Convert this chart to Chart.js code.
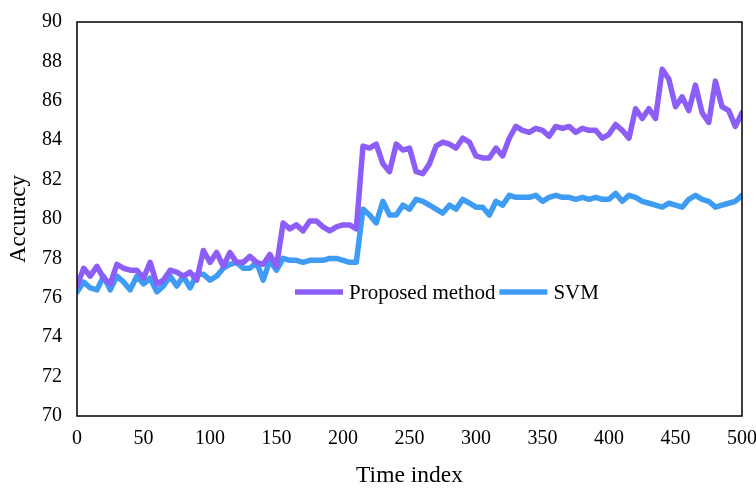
<!DOCTYPE html>
<html>
<head>
<meta charset="utf-8">
<script src="https://cdn.jsdelivr.net/npm/chart.js@4/dist/chart.umd.min.js"></script>
<style>
  html, body { margin: 0; padding: 0; background: #fff; }
  #wrap { width: 756px; height: 488px; }
</style>
</head>
<body>
<div id="wrap"><canvas id="lineChart"></canvas></div>
<script>
// time index, every 5 steps
const timeIndex = [];
for (let t = 0; t <= 500; t += 5) timeIndex.push(t);

const proposed = [
    76.6, 77.5, 77.1, 77.6, 77.0, 76.7, 77.7, 77.5, 77.4, 77.4,
    77.0, 77.8, 76.7, 76.9, 77.4, 77.3, 77.1, 77.3, 76.9, 78.4,
    77.8, 78.3, 77.6, 78.3, 77.8, 77.8, 78.1, 77.8, 77.7, 78.2,
    77.6, 79.8, 79.5, 79.7, 79.4, 79.9, 79.9, 79.6, 79.4, 79.6,
    79.7, 79.7, 79.5, 83.7, 83.6, 83.8, 82.8, 82.4, 83.8, 83.5,
    83.6, 82.4, 82.3, 82.8, 83.7, 83.9, 83.8, 83.6, 84.1, 83.9,
    83.2, 83.1, 83.1, 83.6, 83.2, 84.1, 84.7, 84.5, 84.4, 84.6,
    84.5, 84.2, 84.7, 84.6, 84.7, 84.4, 84.6, 84.5, 84.5, 84.1,
    84.3, 84.8, 84.5, 84.1, 85.6, 85.1, 85.6, 85.1, 87.6, 87.1,
    85.7, 86.2, 85.5, 86.8, 85.4, 84.9, 87.0, 85.7, 85.5, 84.7,
    85.4
];

const svm = [
    76.3, 76.8, 76.5, 76.4, 77.1, 76.4, 77.1, 76.8, 76.4, 77.1,
    76.7, 77.0, 76.3, 76.6, 77.1, 76.6, 77.1, 76.5, 77.2, 77.2,
    76.9, 77.1, 77.5, 77.7, 77.8, 77.5, 77.5, 77.8, 76.9, 77.9,
    77.4, 78.0, 77.9, 77.9, 77.8, 77.9, 77.9, 77.9, 78.0, 78.0,
    77.9, 77.8, 77.8, 80.5, 80.2, 79.8, 80.9, 80.2, 80.2, 80.7,
    80.5, 81.0, 80.9, 80.7, 80.5, 80.3, 80.7, 80.5, 81.0, 80.8,
    80.6, 80.6, 80.2, 80.9, 80.7, 81.2, 81.1, 81.1, 81.1, 81.2,
    80.9, 81.1, 81.2, 81.1, 81.1, 81.0, 81.1, 81.0, 81.1, 81.0,
    81.0, 81.3, 80.9, 81.2, 81.1, 80.9, 80.8, 80.7, 80.6, 80.8,
    80.7, 80.6, 81.0, 81.2, 81.0, 80.9, 80.6, 80.7, 80.8, 80.9,
    81.2
];

const seriesNames = ['Proposed method', 'SVM'];
const serif = '"Liberation Serif", "Times New Roman", serif';

// box around the plot + legend in the middle of the plot
const framePlugin = {
    id: 'frame',
    afterDraw(chart) {
        const { ctx, chartArea: a } = chart;
        ctx.save();
        ctx.strokeStyle = '#000';
        ctx.lineWidth = 1.5;
        ctx.strokeRect(a.left, a.top, a.right - a.left, a.bottom - a.top);

        // legend
        ctx.font = '21px ' + serif;
        ctx.textBaseline = 'middle';
        ctx.lineCap = 'butt';
        let x = 295;
        const y = 292;
        chart.data.datasets.forEach(ds => {
            ctx.strokeStyle = ds.borderColor;
            ctx.lineWidth = 5.5;
            ctx.beginPath();
            ctx.moveTo(x, y);
            ctx.lineTo(x + 48, y);
            ctx.stroke();
            ctx.fillStyle = '#000';
            ctx.fillText(ds.label, x + 54, y + 1);
            x += 54 + ctx.measureText(ds.label).width + 4;
        });
        ctx.restore();
    }
};

const ctxLine = document.getElementById('lineChart').getContext('2d');
new Chart(ctxLine, {
    type: 'line',
    data: {
        datasets: [{
            label: seriesNames[0],
            data: timeIndex.map((t, i) => ({ x: t, y: proposed[i] })),
            borderColor: '#8C5EF7',
            backgroundColor: '#8C5EF7',
            borderWidth: 5.5,
            pointRadius: 0,
            tension: 0,
            borderJoinStyle: 'round',
            borderCapStyle: 'round'
        }, {
            label: seriesNames[1],
            data: timeIndex.map((t, i) => ({ x: t, y: svm[i] })),
            borderColor: '#3F9CF4',
            backgroundColor: '#3F9CF4',
            borderWidth: 5.5,
            pointRadius: 0,
            tension: 0,
            borderJoinStyle: 'round',
            borderCapStyle: 'round'
        }]
    },
    options: {
        responsive: true,
        maintainAspectRatio: false,
        animation: false,
        layout: { padding: { left: 0, right: 14, top: 22, bottom: 0 } },
        plugins: {
            legend: { display: false },
            tooltip: { enabled: false }
        },
        scales: {
            x: {
                type: 'linear',
                min: 0,
                max: 500,
                grid: { display: false, drawTicks: false },
                border: { display: false },
                ticks: {
                    stepSize: 50,
                    padding: 11,
                    color: '#000',
                    font: { family: serif, size: 20 },
                    maxRotation: 0
                },
                title: {
                    display: true,
                    text: 'Time index',
                    color: '#000',
                    font: { family: serif, size: 23.5 },
                    padding: { top: 0, bottom: -2 }
                },
                afterFit(scale) {
                    scale.height = 72;
                    scale.paddingLeft = 0;
                    scale.paddingRight = 0;
                }
            },
            y: {
                min: 70,
                max: 90,
                grid: { display: false, drawTicks: false },
                border: { display: false },
                ticks: {
                    stepSize: 2,
                    padding: 15,
                    color: '#000',
                    font: { family: serif, size: 20 }
                },
                title: {
                    display: true,
                    text: 'Accuracy',
                    color: '#000',
                    font: { family: serif, size: 23 },
                    padding: { top: 5, bottom: 0 }
                },
                afterFit(scale) {
                    scale.width = 77;
                    scale.paddingTop = 0;
                    scale.paddingBottom = 0;
                }
            }
        }
    },
    plugins: [framePlugin]
});
</script>
</body>
</html>
